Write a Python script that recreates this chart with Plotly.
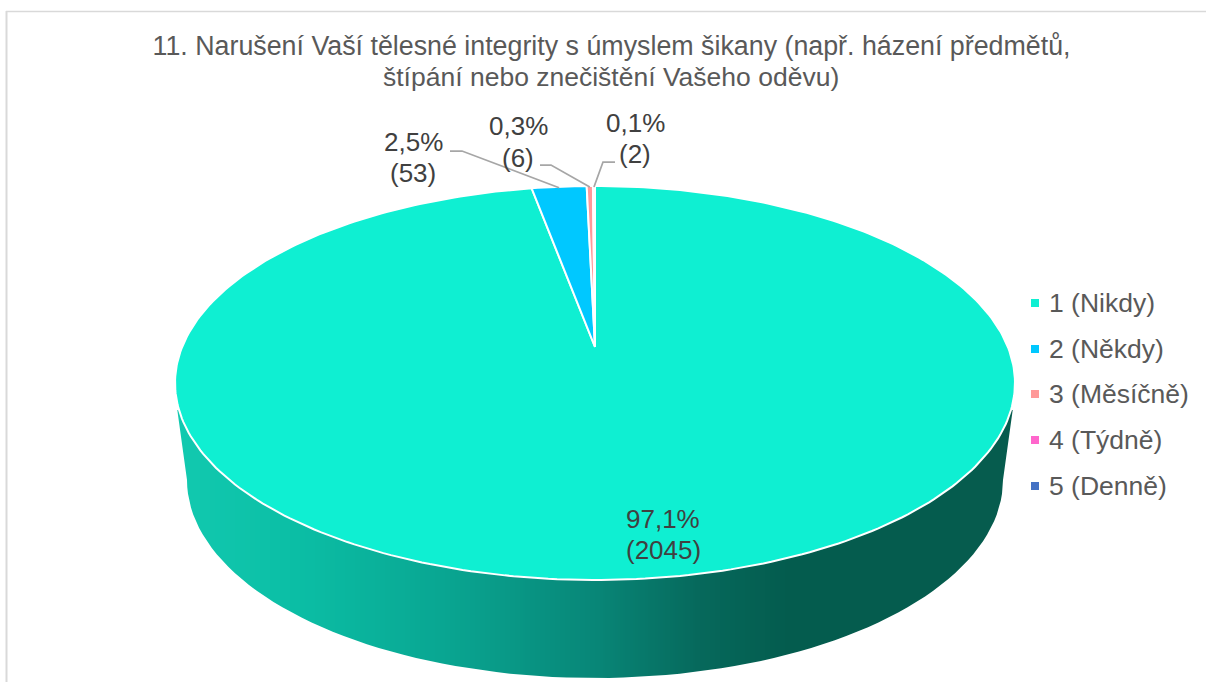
import math

import plotly.graph_objects as go

TITLE_LINES = ["11. Narušení Vaší tělesné integrity s úmyslem šikany (např. házení předmětů,",
               "štípání nebo znečištění Vašeho oděvu)"]
categories = ["1 (Nikdy)", "2 (Někdy)", "3 (Měsíčně)", "4 (Týdně)", "5 (Denně)"]
counts = [2045, 53, 6, 2, 0]
colors = ["#0FEFD2", "#00C8FF", "#FF9999", "#FF66CC", "#4472C4"]

# where each outside label sits (first line, second line), and the elbow of its leader line
label_pos = [(663, 519, 550), (413, 142, 173), (518, 126, 158), (635, 123, 154)]
elbows = [None, [(450, 151), (462, 151)], [(540, 165), (551, 165)], [(615, 162), (603, 162)]]
legend_y = [303, 349, 394, 440, 486]

# side wall shading, left to right (x pixel, rgb)
wall_stops = [(175, (18, 202, 176)), (300, (11, 190, 165)), (450, (9, 165, 145)),
              (595, (8, 135, 120)), (700, (6, 105, 92)), (790, (4, 92, 78)), (1015, (6, 92, 78))]

# tilted disc: apex, perspective and scale, in pixels
CX, CY = 595, 347
PERSP = 0.1827
SCALE_X, SCALE_Y = 412.9, 190.4


def disc_point(angle):
    # angle is clockwise from 12 o'clock
    x, y = math.sin(angle), math.cos(angle)
    d = 1 + PERSP * y
    return CX + SCALE_X * x / d, CY - SCALE_Y * y / d


fig = go.Figure()

# side wall: a horizontal gradient, then white over everything outside its lower edge
wall_x = list(range(175, 1016, 5))
x_lo, x_hi = wall_stops[0][0], wall_stops[-1][0]
fig.add_trace(go.Heatmap(
    x=wall_x, y=[410, 546, 682], z=[wall_x, wall_x], zmin=x_lo, zmax=x_hi, zsmooth="fast", showscale=False,
    colorscale=[[(x - x_lo) / (x_hi - x_lo), "rgb(%d,%d,%d)" % c] for x, c in wall_stops], hoverinfo="skip"
))
edge = [(CX + 408 * math.cos(math.radians(a)), 480 + 198 * math.sin(math.radians(a))) for a in range(0, 181, 2)]
mask = [(1020, 410), (1012.7, 410)] + edge + [(177.3, 410), (170, 410), (170, 682), (1020, 682), (1020, 410)]
fig.add_trace(go.Scatter(
    x=[p[0] for p in mask], y=[p[1] for p in mask], mode="lines", fill="toself", fillcolor="white",
    line=dict(width=0), showlegend=False, hoverinfo="skip"
))

# top face
total = sum(counts)
start = 0
mids = []
for value, color, name in zip(counts, colors, categories):
    end = start + value / total * 2 * math.pi
    mids.append((start + end) / 2)
    if value > 0:
        steps = max(2, int(value / total * 360))
        pts = [(CX, CY)] + [disc_point(start + (end - start) * k / steps) for k in range(steps + 1)] + [(CX, CY)]
        fig.add_trace(go.Scatter(
            x=[p[0] for p in pts], y=[p[1] for p in pts], mode="lines", fill="toself",
            fillcolor=color, line=dict(color="white", width=2), showlegend=False, name=name, hoverinfo="skip"
        ))
    start = end

# leader lines
for mid, elbow in zip(mids, elbows):
    if elbow:
        tip = disc_point(mid)
        fig.add_trace(go.Scatter(
            x=[elbow[0][0], elbow[1][0], tip[0]], y=[elbow[0][1], elbow[1][1], tip[1] + 1], mode="lines",
            line=dict(color="#A6A6A6", width=1.75), showlegend=False, hoverinfo="skip"
        ))

label_font = dict(family="Liberation Sans", size=26, color="#404040")
for value, pos in zip(counts, label_pos):
    pct = ("%.1f" % (value / total * 100)).replace(".", ",")
    fig.add_annotation(x=pos[0], y=pos[1], text=pct + "%", showarrow=False, font=label_font)
    fig.add_annotation(x=pos[0], y=pos[2], text="(%d)" % value, showarrow=False, font=label_font)

# legend, drawn by hand because the built-in one keeps a wider gap before the text
legend_font = dict(family="Liberation Sans", size=26.5, color="#595959")
for name, color, y in zip(categories, colors, legend_y):
    fig.add_trace(go.Scatter(
        x=[1035], y=[y], mode="markers", name=name, showlegend=False, hoverinfo="skip",
        marker=dict(symbol="square", size=8, color=color)
    ))
    fig.add_annotation(x=1046.5, y=y, text=name, showarrow=False, xanchor="left", font=legend_font)

title_font = dict(family="Liberation Sans", size=26.8, color="#595959")
fig.add_annotation(x=610.5, y=77, text=TITLE_LINES[1], showarrow=False,
                   font=dict(family="Liberation Sans", size=26.5, color="#595959"))

fig.update_layout(
    width=1206,
    height=682,
    margin=dict(l=0, r=0, t=0, b=0),
    paper_bgcolor="white",
    plot_bgcolor="white",
    title=dict(text=TITLE_LINES[0], x=611.5 / 1206, xanchor="center", y=1 - 46 / 682, yanchor="middle",
               font=title_font),
    xaxis=dict(range=[0, 1206], visible=False, fixedrange=True),
    yaxis=dict(range=[682, 0], visible=False, fixedrange=True),
    showlegend=False,
    shapes=[
        dict(type="line", x0=6.5, x1=6.5, y0=11, y1=682, line=dict(color="#D9D9D9", width=2)),
        dict(type="line", x0=6, x1=1206, y0=11.5, y1=11.5, line=dict(color="#D9D9D9", width=1.5)),
    ],
)

fig.write_html("out.html", config={"displayModeBar": False}, post_script="document.body.style.margin='0';")
